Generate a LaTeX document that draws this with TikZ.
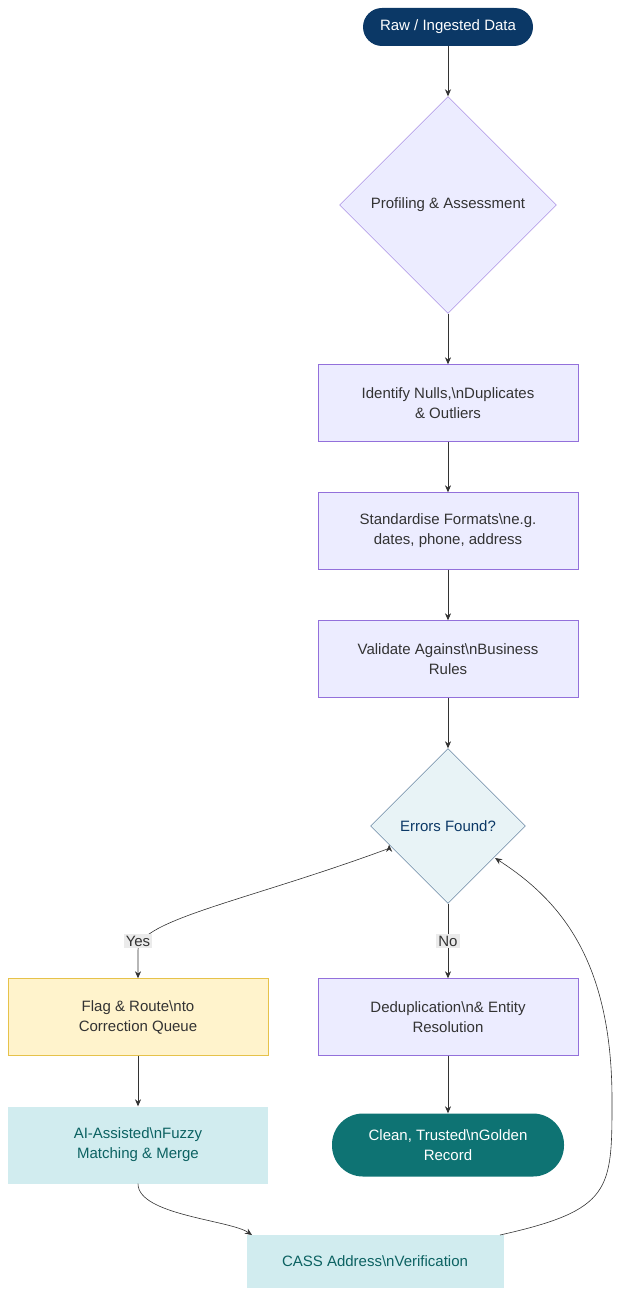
\documentclass[tikz,border=0pt]{standalone}
\usepackage{fontspec}
\setmainfont{Liberation Sans}
\usetikzlibrary{shapes.geometric,arrows.meta}
\definecolor{lav}{HTML}{ECECFF}
\definecolor{lavs}{HTML}{9370DB}
\definecolor{navy}{HTML}{0B3866}
\definecolor{teal}{HTML}{0E7373}
\definecolor{lteal}{HTML}{D1ECEF}
\definecolor{ice}{HTML}{E8F3F6}
\definecolor{yel}{HTML}{FFF3CC}
\definecolor{yels}{HTML}{E6C24A}
\definecolor{txt}{HTML}{333333}
\begin{document}
\begin{tikzpicture}[x=1pt,y=-1pt,font=\fontsize{15}{20}\selectfont,
 box/.style={draw=lavs,fill=lav,text=txt,minimum width=260,minimum height=77,align=center,inner sep=0},
 pill/.style={rounded corners=#1,align=center,text=white,inner sep=0},
 dia/.style={diamond,draw=lavs,fill=lav,text=txt,inner sep=0,aspect=1},
 arr/.style={draw=txt,-{Stealth[length=7,width=6]},line width=0.6},
 lab/.style={fill=black!8,text=txt,inner sep=2}]
\useasboundingbox (0,0) rectangle (621,1297);
\node[pill=19,fill=navy,minimum width=170,minimum height=38] (raw) at (448,27) {Raw / Ingested Data};
\node[dia,minimum width=217,minimum height=217] (prof) at (448,205) {Profiling \& Assessment};
\node[box] (ident) at (448,403) {Identify Nulls,\textbackslash nDuplicates\\ \& Outliers};
\node[box] (std) at (448,531) {Standardise Formats\textbackslash ne.g.\\ dates, phone, address};
\node[box] (val) at (448,659) {Validate Against\textbackslash nBusiness\\ Rules};
\node[dia,draw=navy!80,fill=ice,text=navy,minimum width=155,minimum height=155] (err) at (448,826) {Errors Found?};
\node[box,draw=yels,fill=yel] (flag) at (138,1017) {Flag \& Route\textbackslash nto\\ Correction Queue};
\node[box] (dedup) at (448,1017) {Deduplication\textbackslash n\& Entity\\ Resolution};
\node[box,draw=none,fill=lteal,text=teal!85!black] (ai) at (138,1145) {AI-Assisted\textbackslash nFuzzy\\ Matching \& Merge};
\node[pill=31,fill=teal,minimum width=232,minimum height=63] (clean) at (448,1145) {Clean, Trusted\textbackslash nGolden\\ Record};
\node[box,draw=none,fill=lteal,text=teal!85!black,minimum width=257,minimum height=53] (cass) at (375,1261) {CASS Address\textbackslash nVerification};
\coordinate (yes) at (138,941);
\draw[arr] (raw) -- (prof);
\draw[arr] (prof) -- (ident);
\draw[arr] (ident) -- (std);
\draw[arr] (std) -- (val);
\draw[arr] (val) -- (err);
\draw[arr] (err.south west) ++(-20,-20) coordinate (ew);
\draw[arr] (390,848) .. controls (250,900) and (138,920) .. (138,950) -- (flag.north);
\node[lab] at (138,941) {Yes};
\draw[arr] (err) -- (dedup);
\node[lab] at (448,941) {No};
\draw[arr] (flag) -- (ai);
\draw[arr] (dedup) -- (clean);
\draw[arr] (ai.south) .. controls (138,1215) and (230,1220) .. (252,1235);
\draw[arr] (500,1235) .. controls (612,1210) and (612,1190) .. (612,1100) .. controls (612,960) and (560,900) .. (495,858);
\end{tikzpicture}
\end{document}
